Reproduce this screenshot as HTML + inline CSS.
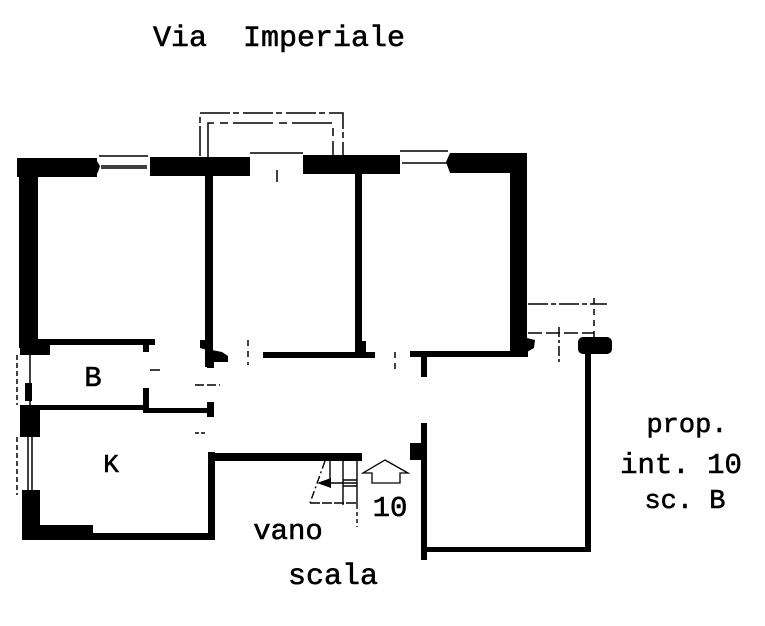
<!DOCTYPE html>
<html><head><meta charset="utf-8"><style>
html,body{margin:0;padding:0;background:#fff;}
svg{display:block;}
text{font-family:"Liberation Mono","DejaVu Sans Mono",monospace;fill:#000;stroke:#000;stroke-width:0.6;}
</style></head><body>
<svg width="765" height="626" viewBox="0 0 765 626" xmlns="http://www.w3.org/2000/svg">
<rect width="765" height="626" fill="#fff"/>

<!-- Title -->
<text x="153" y="46" font-size="30" xml:space="preserve">Via  Imperiale</text>

<!-- balcony dashed -->
<path d="M200,156 V113 H343 V156" fill="none" stroke="#000" stroke-width="1.5" stroke-dasharray="30,3,6,4"/>
<path d="M208,157 V123 H333 V157" fill="none" stroke="#000" stroke-width="1.5" stroke-dasharray="40,6,8,5"/>

<g fill="#000">
<!-- top wall segments -->
<rect x="17" y="158" width="80" height="19"/>
<polygon points="95,158 100,166 98,172 95,177"/>
<rect x="150" y="157" width="100" height="19"/>
<polygon points="150,157 154,166 150,176"/>
<polygon points="250,157 246,166 250,176"/>
<rect x="303" y="155" width="97" height="19"/>
<polygon points="303,155 307,164 303,174"/>
<rect x="450" y="153" width="77" height="20"/>
<polygon points="450,153 446,162 450,173"/>
<!-- left outer wall -->
<rect x="19" y="158" width="19" height="190"/>
<!-- right outer wall -->
<rect x="510" y="153" width="17" height="199"/>
<polygon points="527,338 535,340 534,348 527,352"/>

<!-- interior wall room1/room2 -->
<rect x="205" y="174" width="8" height="193"/>
<polygon points="200,340 210,340 212,350 222,352 228,356 228,362 214,362 214,368 207,368 207,350 200,348"/>
<!-- room1 bottom -->
<rect x="38" y="339" width="117" height="6"/>
<rect x="143" y="344" width="6" height="8"/>
<rect x="20" y="339" width="30" height="16"/>

<!-- room2 right wall -->
<rect x="355" y="174" width="7" height="178"/>
<rect x="356" y="341" width="10" height="12"/>
<!-- room2 bottom -->
<rect x="263" y="352" width="112" height="6"/>

<!-- room3 bottom + T -->
<rect x="410" y="351" width="118" height="6"/>
<rect x="421" y="351" width="6" height="26"/>

<!-- B room -->
<rect x="25" y="383" width="7" height="18"/>
<rect x="20" y="405" width="20" height="32"/>
<rect x="38" y="405" width="107" height="5"/>
<rect x="143" y="388" width="6" height="25"/>
<rect x="145" y="408" width="68" height="5"/>
<rect x="207" y="402" width="7" height="15"/>

<!-- K room -->
<rect x="22" y="490" width="18" height="50"/>
<rect x="22" y="525" width="71" height="15"/>
<rect x="93" y="533" width="120" height="7"/>
<rect x="208" y="452" width="7" height="88"/>
<rect x="208" y="453" width="154" height="8"/>

<!-- right room -->
<rect x="421" y="423" width="6" height="137"/>
<rect x="410" y="443" width="12" height="17"/>
<rect x="427" y="547" width="163" height="5"/>
<rect x="585" y="350" width="6" height="202"/>
<rect x="578" y="337" width="34" height="17" rx="5"/>
</g>

<!-- windows -->
<g fill="none" stroke="#000" stroke-width="1.5">
<path d="M99,156 H148 M101,166 H147 M101,168 H147"/>
<path d="M400,151 H448 M402,163 H448"/>
<path d="M250,153 H303"/>
<path d="M277,170 V182"/>
<!-- left windows -->
<path d="M17,355 V405" stroke-dasharray="5,3"/>
<path d="M30,355 V383 M30,400 V405"/>
<path d="M17,437 V495" stroke-dasharray="5,3"/>
<path d="M28,437 V490 M32,437 V490"/>
</g>

<!-- dashes / dashed lines -->
<g fill="none" stroke="#000" stroke-width="1.5">
<path d="M248,340 V365" stroke-dasharray="6,5"/>
<path d="M395,352 V372" stroke-dasharray="6,5"/>
<path d="M150,370 H160"/>
<path d="M195,385 H220" stroke-dasharray="9,3"/>
<path d="M195,433 H205" stroke-dasharray="4,2"/>
<path d="M528,304 H607" stroke-dasharray="20,3,5,3"/>
<path d="M528,333 H594" stroke-dasharray="14,4"/>
<path d="M594,298 V340" stroke-dasharray="6,5"/>
<path d="M559,327 V365" stroke-dasharray="10,3,3,3"/>
</g>

<!-- stairs -->
<g fill="none" stroke="#000" stroke-width="1.4">
<path d="M325,461 L310,503" stroke-dasharray="8,3,2,3"/>
<path d="M330,461 V487"/>
<path d="M343,461 V505"/>
<path d="M357,461 V505"/>
<path d="M357,505 V527" stroke-dasharray="4,3"/>
<path d="M310,503 H357" stroke-dasharray="10,2"/>
<path d="M325,483 H357"/>
<path d="M343,480 H357 M343,486 H357"/>
<!-- outline arrow -->
<path d="M385,460 L408,473 H400 V483 H372 V473 H363 Z" stroke-width="1.3"/>
</g>
<polygon points="317,483 331,478 331,488" fill="#000"/>

<!-- labels -->
<text x="93" y="386" font-size="29" text-anchor="middle">B</text>
<text x="111" y="472" font-size="26" text-anchor="middle">K</text>
<text x="390" y="516" font-size="29" text-anchor="middle">10</text>
<text x="288" y="539" font-size="29" text-anchor="middle">vano</text>
<text x="333" y="584" font-size="30" text-anchor="middle">scala</text>
<text x="687" y="432" font-size="27" text-anchor="middle">prop.</text>
<text x="681" y="473" font-size="29" text-anchor="middle">int. 10</text>
<text x="685" y="508" font-size="27" text-anchor="middle">sc. B</text>
</svg>
</body></html>
